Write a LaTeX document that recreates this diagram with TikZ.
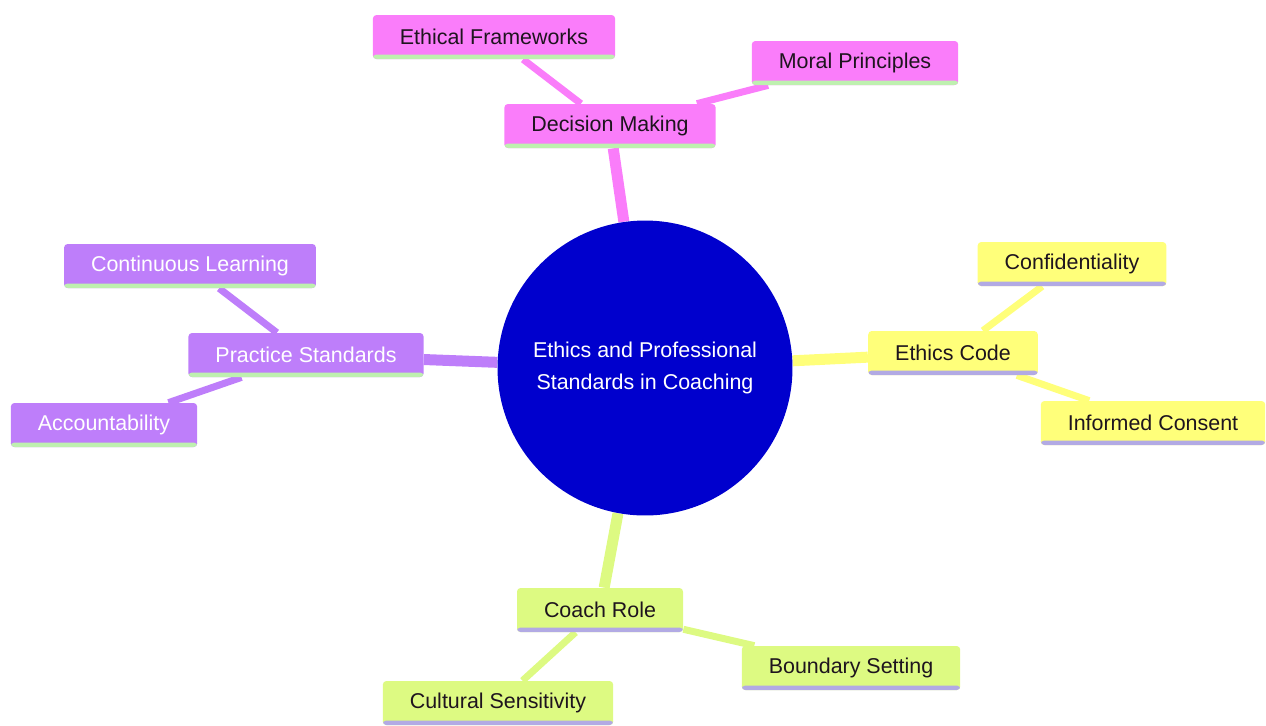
\documentclass[tikz,border=0pt]{standalone}
\usepackage{fontspec}
\setmainfont{Liberation Sans}
\usetikzlibrary{backgrounds}
\definecolor{hubblue}{RGB}{0,0,205}
\definecolor{pinkfill}{RGB}{250,125,250}
\definecolor{yellowfill}{RGB}{255,255,122}
\definecolor{purplefill}{RGB}{190,126,250}
\definecolor{greenfill}{RGB}{221,250,130}
\definecolor{mintline}{RGB}{190,240,175}
\definecolor{lavline}{RGB}{178,170,228}
\definecolor{darktext}{RGB}{30,20,30}
\tikzset{
  topic/.style={rectangle, rounded corners=2pt, minimum height=0.88cm, inner xsep=0.54cm,
    font=\fontsize{12.2}{14}\selectfont, text=darktext},
  underline/.style={path picture={\fill[#1] ([yshift=0.09cm]path picture bounding box.south west)
    rectangle (path picture bounding box.south east);}},
  pinktopic/.style={topic, fill=pinkfill, underline=mintline},
  yellowtopic/.style={topic, fill=yellowfill, underline=lavline},
  purpletopic/.style={topic, fill=purplefill, text=white, underline=mintline},
  greentopic/.style={topic, fill=greenfill, underline=lavline},
  branch/.style={line width=0.22cm},
  twig/.style={line width=0.14cm}
}

\begin{document}
\begin{tikzpicture}[x=0.02cm, y=-0.02cm]
\useasboundingbox (0,0) rectangle (1266,725);

\node[circle, fill=hubblue, minimum size=5.9cm, text=white, align=center,
  font=\fontsize{12.2}{18.2}\selectfont] (hub) at (645,368)
  {Ethics and Professional\\Standards in Coaching};

\node[pinktopic] (decision) at (610,126) {Decision Making};
\node[pinktopic] (frameworks) at (494,37) {Ethical Frameworks};
\node[pinktopic] (moral) at (855,63) {Moral Principles};

\node[yellowtopic] (code) at (953,353) {Ethics Code};
\node[yellowtopic] (confid) at (1072,264) {Confidentiality};
\node[yellowtopic] (consent) at (1153,423) {Informed Consent};

\node[purpletopic] (practice) at (306,355) {Practice Standards};
\node[purpletopic] (learning) at (190,266) {Continuous Learning};
\node[purpletopic] (account) at (104,425) {Accountability};

\node[greentopic] (coach) at (600,610) {Coach Role};
\node[greentopic] (boundary) at (851,668) {Boundary Setting};
\node[greentopic] (cultural) at (498,703) {Cultural Sensitivity};

\begin{scope}[on background layer]
\draw[branch, pinkfill] (hub) -- (decision);
\draw[twig, pinkfill] (decision) -- (frameworks);
\draw[twig, pinkfill] (decision) -- (moral);
\draw[branch, yellowfill] (hub) -- (code);
\draw[twig, yellowfill] (code) -- (confid);
\draw[twig, yellowfill] (code) -- (consent);
\draw[branch, purplefill] (hub) -- (practice);
\draw[twig, purplefill] (practice) -- (learning);
\draw[twig, purplefill] (practice) -- (account);
\draw[branch, greenfill] (hub) -- (coach);
\draw[twig, greenfill] (coach) -- (boundary);
\draw[twig, greenfill] (coach) -- (cultural);
\end{scope}
\end{tikzpicture}
\end{document}
